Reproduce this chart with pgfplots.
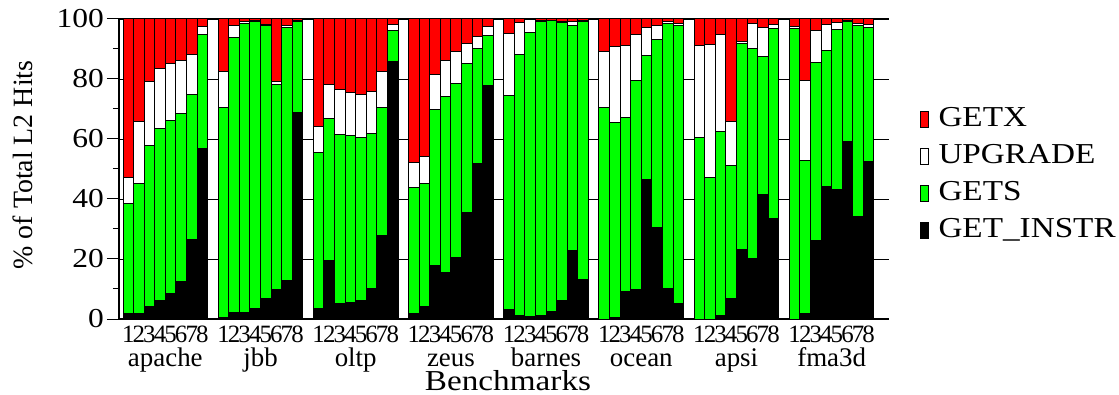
\documentclass[border=0pt]{standalone}
\usepackage{fontspec}
\setmainfont{Liberation Serif}
\newfontfamily\wide{Liberation Serif}[FakeStretch=1.15]
\usepackage{pgfplots}
\usepackage{pgfplotstable}
\pgfplotsset{compat=1.18}
\definecolor{gxred}{RGB}{255,0,0}
\definecolor{gsgreen}{RGB}{0,255,0}
\pgfplotstableread{
x instr gets upg getx
0 1.9 36.7 8.7 52.7
1 1.9 43.2 20.6 34.3
2 4.2 53.6 21.5 20.7
3 6.2 57.4 20.0 16.4
4 8.4 57.6 19.2 14.8
5 12.5 56.0 17.8 13.7
6 26.4 48.3 13.6 11.7
7 56.7 38.0 2.7 2.6
9 0.5 70.0 12.1 17.4
10 2.2 91.7 3.8 2.3
11 2.2 96.3 0.7 0.8
12 3.6 95.6 0.3 0.5
13 6.8 91.0 0.3 1.9
14 9.9 68.4 0.8 20.9
15 12.8 84.3 0.6 2.3
16 68.8 30.5 0.3 0.4
18 3.6 51.9 8.5 36.0
19 19.5 47.3 11.2 22.0
20 5.0 56.5 15.0 23.5
21 5.6 55.5 14.5 24.4
22 6.3 54.2 14.3 25.2
23 10.2 51.6 14.1 24.1
24 27.8 42.7 12.1 17.4
25 85.7 10.3 2.3 1.7
27 1.7 42.0 8.3 48.0
28 4.3 40.8 8.9 46.0
29 17.8 52.0 11.7 18.5
30 15.6 58.5 12.2 13.7
31 20.4 58.1 10.8 10.7
32 35.6 49.6 6.7 8.1
33 51.8 38.3 4.0 5.9
34 77.7 16.7 3.0 2.6
36 3.0 71.6 20.4 5.0
37 1.0 87.2 10.6 1.2
38 0.9 94.5 4.3 0.3
39 1.2 97.9 0.4 0.5
40 2.4 97.0 0.2 0.4
41 6.1 92.8 0.4 0.7
42 22.8 75.0 1.3 0.9
43 13.0 86.1 0.3 0.6
45 0.0 70.5 18.6 10.9
46 0.6 64.8 25.4 9.2
47 9.1 58.0 23.9 9.0
48 9.7 69.7 15.3 5.3
49 46.4 41.5 9.3 2.8
50 30.6 62.4 4.8 2.2
51 10.2 88.4 0.5 0.9
52 5.2 92.6 0.8 1.4
54 0.0 60.5 30.6 8.9
55 0.0 47.1 44.5 8.4
56 1.1 61.5 32.1 5.3
57 6.7 44.3 14.7 34.3
58 23.1 68.8 0.6 7.5
59 20.0 70.0 8.6 1.4
60 41.5 46.1 9.6 2.8
61 33.6 63.2 1.5 1.7
63 0.0 96.9 0.5 2.6
64 1.9 50.8 26.9 20.4
65 26.2 59.2 10.9 3.7
66 44.0 45.4 8.6 2.0
67 43.2 53.3 2.3 1.2
68 59.0 40.1 0.3 0.6
69 34.3 63.4 0.9 1.4
70 52.6 44.6 0.8 2.0
}\data

\begin{document}
\begin{tikzpicture}
\begin{axis}[
  name=ax,
  width=770bp, height=300bp, scale only axis,
  ybar stacked, bar width=1,
  xmin=-0.88, xmax=71.92, ymin=0, ymax=100,
  clip=false,
  axis x line=box, axis y line=left,
  axis line style={-, line width=1.2bp, black},
  ytick={0,20,40,60,80,100},
  minor y tick num=1,
  tick align=outside,
  major tick length=12bp, minor tick length=6bp,
  tick style={black, line width=1bp},
  ymajorgrids,
  major grid style={black, line width=0.8bp},
  /pgf/number format/assume math mode=true,
  yticklabel style={font=\wide\fontsize{27.5}{30}\selectfont, inner xsep=3bp},
  xtick={0,1,2,3,4,5,6,7,9,10,11,12,13,14,15,16,18,19,20,21,22,23,24,25,27,28,29,30,31,32,33,34,36,37,38,39,40,41,42,43,45,46,47,48,49,50,51,52,54,55,56,57,58,59,60,61,63,64,65,66,67,68,69,70},
  xticklabels={1,2,3,4,5,6,7,8,1,2,3,4,5,6,7,8,1,2,3,4,5,6,7,8,1,2,3,4,5,6,7,8,1,2,3,4,5,6,7,8,1,2,3,4,5,6,7,8,1,2,3,4,5,6,7,8,1,2,3,4,5,6,7,8},
  x tick style={draw=none},
  xticklabel style={font=\fontsize{25}{27}\selectfont, inner sep=0pt, yshift=5bp},
  reverse legend,
  legend image code/.code={\path[draw=none,fill=none] (0bp,0bp) -- (18bp,0bp); \draw[#1, line width=1bp] (0bp,-7.5bp) rectangle (8bp,7.5bp);},
  legend style={at={(1.04,0.48)}, anchor=west, draw=none, fill=none, inner sep=0pt,
    font=\wide\fontsize{29}{32}\selectfont, row sep=12bp,
    nodes={inner sep=0pt, text height=19bp, text depth=6bp}},
  legend cell align=left,
]
\addplot[fill=black, draw=black, line width=1bp] table[x=x, y=instr]{\data};
\addlegendentry{GET\_INSTR}
\addplot[fill=gsgreen, draw=black, line width=1bp] table[x=x, y=gets]{\data};
\addlegendentry{GETS}
\addplot[fill=white, draw=black, line width=1bp] table[x=x, y=upg]{\data};
\addlegendentry{UPGRADE}
\addplot[fill=gxred, draw=black, line width=1bp] table[x=x, y=getx]{\data};
\addlegendentry{GETX}
\foreach \name [count=\g from 0] in {apache,jbb,oltp,zeus,barnes,ocean,apsi,fma3d}{
  \pgfmathsetmacro{\cx}{3.5+9*\g}
  \edef\temp{\noexpand\node[anchor=base, font=\noexpand\fontsize{27}{29}\noexpand\selectfont, inner sep=0pt] at (axis cs:\cx,0) [yshift=-47bp] {\name};}
  \temp
}
\end{axis}
\node[anchor=base, font=\wide\fontsize{29}{31}\selectfont, inner sep=0pt] at ([yshift=-71bp, xshift=4bp]ax.south) {Benchmarks};
\node[rotate=90, anchor=center, font=\fontsize{28}{30}\selectfont, inner sep=0pt] at ([xshift=-96bp, yshift=4bp]ax.west) {\% of Total L2 Hits};
\pgfresetboundingbox
\path[use as bounding box] ([xshift=-119bp,yshift=-76bp]ax.south west) rectangle ([xshift=230bp,yshift=19bp]ax.north east);
\end{tikzpicture}
\end{document}
